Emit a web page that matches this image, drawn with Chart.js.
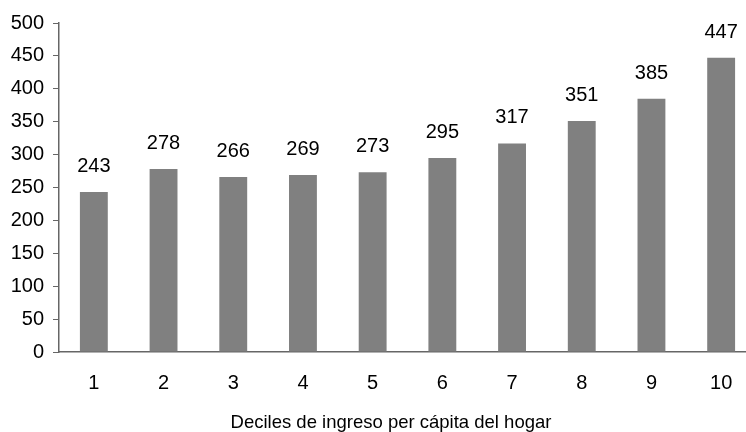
<!DOCTYPE html>
<html>
<head>
<meta charset="utf-8">
<script src="https://cdn.jsdelivr.net/npm/chart.js@4/dist/chart.umd.min.js"></script>
<style>
  html, body { margin: 0; padding: 0; background: #ffffff; overflow: hidden; }
  #wrap { width: 746px; height: 432px; overflow: hidden; position: relative; }
  #box { width: 756px; height: 432px; position: absolute; left: 0; top: 0; }
</style>
</head>
<body>
<div id="wrap"><div id="box"><canvas id="c"></canvas></div></div>
<script>
// Gasto medio por decil de ingreso per cápita del hogar
const deciles = ['1', '2', '3', '4', '5', '6', '7', '8', '9', '10'];
const valores = [243, 278, 266, 269, 273, 295, 317, 351, 385, 447];
const yTicks = [0, 50, 100, 150, 200, 250, 300, 350, 400, 450, 500];
const tituloX = 'Deciles de ingreso per cápita del hogar';

const FONT = 'Arial, "Liberation Sans", sans-serif';
const AXIS = '#666666';

// Valor escrito sobre cada barra y título del eje horizontal
const etiquetas = {
  id: 'etiquetas',
  afterDatasetsDraw(chart) {
    const ctx = chart.ctx;
    const meta = chart.getDatasetMeta(0);
    ctx.save();
    ctx.font = '20px ' + FONT;
    ctx.fillStyle = '#000000';
    ctx.textAlign = 'center';
    ctx.textBaseline = 'alphabetic';
    meta.data.forEach((bar, i) => {
      ctx.fillText(String(chart.data.datasets[0].data[i]), bar.x, bar.y - 20);
    });
    ctx.font = '18.5px ' + FONT;
    ctx.fillText(tituloX, 391, 428);
    ctx.restore();
  }
};

new Chart(document.getElementById('c'), {
  type: 'bar',
  data: {
    labels: deciles,
    datasets: [{
      data: valores,
      backgroundColor: '#808080',
      borderWidth: 0,
      barPercentage: 0.8,
      categoryPercentage: 0.5
    }]
  },
  options: {
    responsive: true,
    maintainAspectRatio: false,
    animation: false,
    devicePixelRatio: 1,
    layout: { padding: { top: 23, left: 0, right: 0, bottom: 0 } },
    plugins: { legend: { display: false }, tooltip: { enabled: false } },
    scales: {
      x: {
        grid: { display: false },
        border: { display: true, color: AXIS, width: 1.5 },
        ticks: { color: '#000000', font: { size: 20, family: FONT }, padding: 11 },
        afterFit(scale) { scale.height = 80; }
      },
      y: {
        min: 0,
        max: 500,
        afterBuildTicks(scale) { scale.ticks = yTicks.map(v => ({ value: v })); },
        grid: {
          display: true,
          drawOnChartArea: false,
          drawTicks: true,
          tickLength: 6,
          color: AXIS,
          lineWidth: 1
        },
        border: { display: true, color: AXIS, width: 1.5 },
        ticks: { color: '#000000', font: { size: 20, family: FONT }, padding: 9 },
        afterFit(scale) { scale.width = 59; }
      }
    }
  },
  plugins: [etiquetas]
});
</script>
</body>
</html>
